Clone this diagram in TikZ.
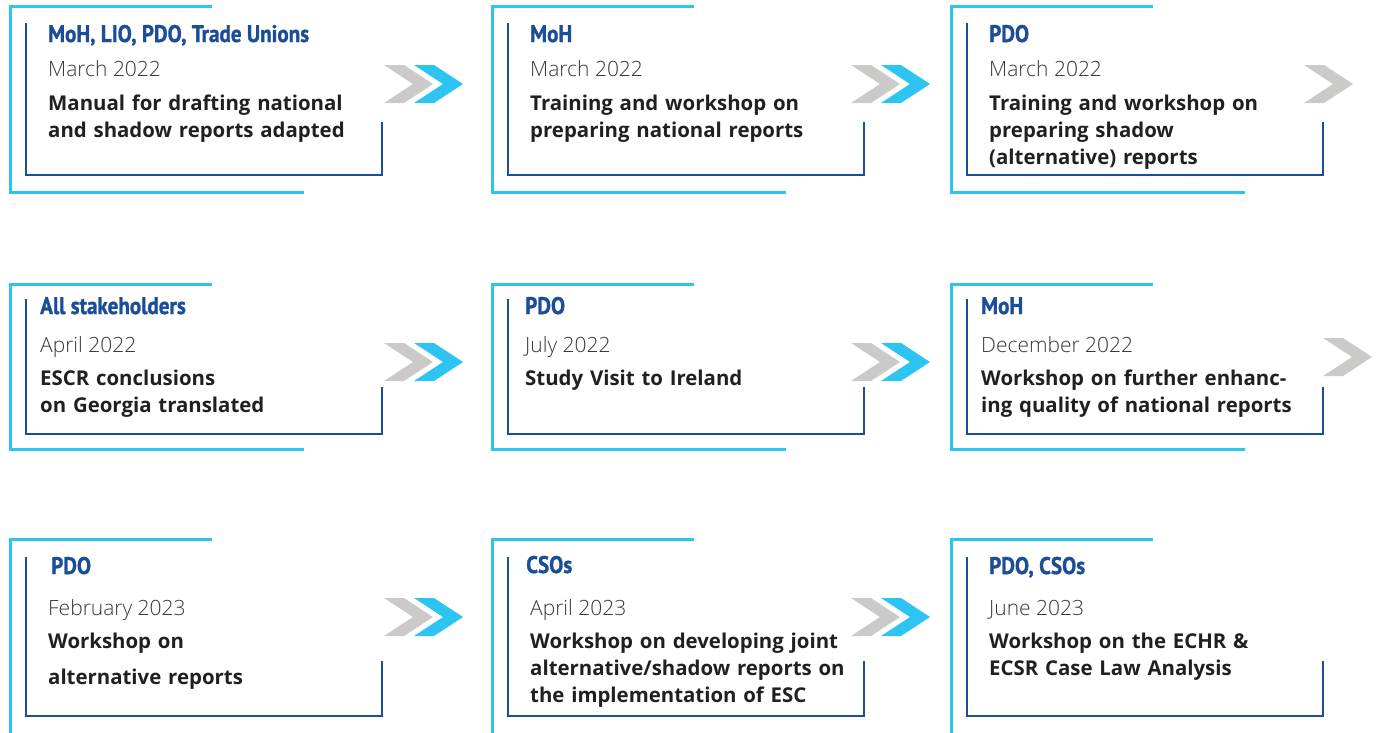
\documentclass[tikz,border=0pt]{standalone}
\usepackage{fontspec}
\setmainfont{Open Sans}
\newfontfamily\headfont[FakeStretch=0.88, FakeBold=1.2]{PT Sans Bold}
\newfontfamily\datefont{Open Sans Light}
\usetikzlibrary{positioning}
\definecolor{frameblue}{HTML}{2EC4F2}
\definecolor{darkblue}{HTML}{1B4D99}
\definecolor{chevgray}{HTML}{CCCAC9}
\definecolor{bodyblack}{HTML}{231F20}
\definecolor{dategray}{HTML}{383838}
\tikzstyle{outerframe} = [draw=frameblue, line width=3pt]
\tikzstyle{innerframe} = [draw=darkblue, line width=2.6pt]
\tikzstyle{headtext} = [inner sep=0pt, anchor=base west, text=darkblue, font=\headfont\fontsize{24}{28}\selectfont]
\tikzstyle{datetext} = [inner sep=0pt, text=dategray, font=\datefont\fontsize{21}{26}\selectfont]
\tikzstyle{desctext} = [inner sep=0pt, text width=360pt, align=left, text=bodyblack, font=\bfseries\fontsize{20.4}{27}\selectfont]
\newcommand{\cardframe}[6]{
	\draw[outerframe] (#1+202,#2) -| (#1,#3) -- (#1+294,#3);
	\draw[innerframe] (#1+16,#4) |- (#1+372,#5) -- (#1+372,#6);
}
\newcommand{\chevron}[3]{
	\fill[#3] (#1,#2-19) -- ++(20,0) -- ++(29,19) -- ++(-29,19) -- ++(-20,0) -- ++(29,-19) -- cycle;
}

\begin{document}
\begin{tikzpicture}[x=1pt, y=-1pt]
	\useasboundingbox (0,0) rectangle (1378,732);
	\clip (0,0) rectangle (1378,732);
	\cardframe{10}{6}{192}{23}{175}{122}
	\cardframe{492}{6}{192}{23}{175}{122}
	\cardframe{951}{6}{192}{23}{175}{122}
	\cardframe{10}{284}{449}{299}{434}{387}
	\cardframe{492}{284}{449}{299}{434}{387}
	\cardframe{951}{284}{449}{299}{434}{387}
	\cardframe{10}{539}{760}{557}{716}{661}
	\cardframe{492}{539}{760}{557}{716}{661}
	\cardframe{951}{539}{760}{557}{716}{661}
	\chevron{384}{84}{chevgray}
	\chevron{414}{84}{frameblue}
	\chevron{851}{84}{chevgray}
	\chevron{881}{84}{frameblue}
	\chevron{1304}{84}{chevgray}
	\chevron{384}{362}{chevgray}
	\chevron{414}{362}{frameblue}
	\chevron{851}{362}{chevgray}
	\chevron{881}{362}{frameblue}
	\chevron{1323}{357}{chevgray}
	\chevron{384}{617}{chevgray}
	\chevron{414}{617}{frameblue}
	\chevron{851}{617}{chevgray}
	\chevron{881}{617}{frameblue}

	\node (Head1) [headtext] at (48,42) {MoH, LIO, PDO, Trade Unions};
	\node (Date1) [datetext, below = 34pt of Head1.base west, anchor=base west] {March 2022};
	\node (Task1) [desctext, below = 34pt of Date1.base west, anchor=base west] {Manual for drafting national\\and shadow reports adapted};

	\node (Head2) [headtext] at (530,42) {MoH};
	\node (Date2) [datetext, below = 34pt of Head2.base west, anchor=base west] {March 2022};
	\node (Task2) [desctext, below = 34pt of Date2.base west, anchor=base west] {Training and workshop on\\preparing national reports};

	\node (Head3) [headtext] at (989,42) {PDO};
	\node (Date3) [datetext, below = 34pt of Head3.base west, anchor=base west] {March 2022};
	\node (Task3) [desctext, below = 34pt of Date3.base west, anchor=base west] {Training and workshop on\\preparing shadow\\(alternative) reports};

	\node (Head4) [headtext] at (40,314) {All stakeholders};
	\node (Date4) [datetext, below = 38pt of Head4.base west, anchor=base west] {April 2022};
	\node (Task4) [desctext, below = 33pt of Date4.base west, anchor=base west] {ESCR conclusions\\on Georgia translated};

	\node (Head5) [headtext] at (525,314) {PDO};
	\node (Date5) [datetext, below = 38pt of Head5.base west, anchor=base west] {July 2022};
	\node (Task5) [desctext, below = 33pt of Date5.base west, anchor=base west] {Study Visit to Ireland};

	\node (Head6) [headtext] at (981,314) {MoH};
	\node (Date6) [datetext, below = 38pt of Head6.base west, anchor=base west] {December 2022};
	\node (Task6) [desctext, below = 33pt of Date6.base west, anchor=base west] {Workshop on further enhanc-\\ing quality of national reports};

	\node (Head7) [headtext] at (51,574) {PDO};
	\node (Date7) [datetext, below = 41pt of Head7.base west, anchor=base west, xshift=-3pt] {February 2023};
	\node (Task7) [desctext, below = 33pt of Date7.base west, anchor=base west] {Workshop on\\[9pt]alternative reports};

	\node (Head8) [headtext] at (526,573) {CSOs};
	\node (Date8) [datetext, below = 42pt of Head8.base west, anchor=base west, xshift=4pt] {April 2023};
	\node (Task8) [desctext, below = 33pt of Date8.base west, anchor=base west] {Workshop on developing joint\\alternative/shadow reports on\\the implementation of ESC};

	\node (Head9) [headtext] at (989,574) {PDO, CSOs};
	\node (Date9) [datetext, below = 41pt of Head9.base west, anchor=base west] {June 2023};
	\node (Task9) [desctext, below = 33pt of Date9.base west, anchor=base west] {Workshop on the ECHR \&\\ECSR Case Law Analysis};
\end{tikzpicture}
\end{document}
